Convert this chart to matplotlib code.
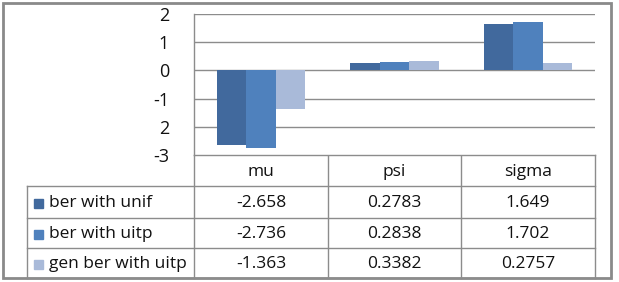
import matplotlib
matplotlib.use("Agg")
import matplotlib.pyplot as plt
from matplotlib.patches import Rectangle
import numpy as np

categories = ["mu", "psi", "sigma"]
series_names = ["ber with unif", "ber with uitp", "gen ber with uitp"]
ber_unif = [-2.658, 0.2783, 1.649]
ber_uitp = [-2.736, 0.2838, 1.702]
gen_ber_uitp = [-1.363, 0.3382, 0.2757]
value_labels = [
    ["-2.658", "0.2783", "1.649"],
    ["-2.736", "0.2838", "1.702"],
    ["-1.363", "0.3382", "0.2757"],
]
yticks = [2, 1, 0, -1, -2, -3]
ytick_labels = ["2", "1", "0", "-1", "2", "-3"]

colors = ["#41699D", "#4F81BD", "#A9BAD9"]
grid_c = "#8C8C8C"
txt_c = "#111111"
font = "Open Sans"

W, H = 619, 282
fig = plt.figure(figsize=(W / 100, H / 100), dpi=100)
plt.rcParams["font.family"] = [font, "DejaVu Sans"]

# pixel layout
px_left, px_right, px_top, px_bot = 194, 595, 14, 155
ax = fig.add_axes([px_left / W, 1 - px_bot / H,
                   (px_right - px_left) / W, (px_bot - px_top) / H])

x = np.arange(len(categories))
w = 0.22
for i, vals in enumerate([ber_unif, ber_uitp, gen_ber_uitp]):
    ax.bar(x + (i - 1) * w, vals, width=w, color=colors[i], zorder=3)

ax.set_xlim(-0.5, 2.5)
ax.set_ylim(-3, 2)
ax.set_yticks(yticks)
ax.set_yticklabels(ytick_labels, fontsize=13, color=txt_c)
ax.tick_params(axis="y", length=0, pad=18)
ax.set_xticks([])
ax.grid(axis="y", color=grid_c, linewidth=1.0, zorder=0)
for s in ["top", "right", "bottom"]:
    ax.spines[s].set_visible(False)
ax.spines["left"].set_color(grid_c)
ax.spines["left"].set_linewidth(1.0)

# table + border in pixel coordinates
tb = fig.add_axes([0, 0, 1, 1], zorder=-1)
tb.set_xlim(0, W)
tb.set_ylim(H, 0)
tb.set_axis_off()
tb.patch.set_alpha(0)

col_x = [27, 194, 328, 461, 595]
row_y = [155, 186, 218, 248, 278]
lw = 1.0
# header row (no legend cell)
tb.plot([194, 595], [155, 155], color=grid_c, lw=lw)
for cx in col_x[1:]:
    tb.plot([cx, cx], [155, 278], color=grid_c, lw=lw)
tb.plot([27, 27], [186, 278], color=grid_c, lw=lw)
for ry in row_y[1:]:
    tb.plot([27, 595], [ry, ry], color=grid_c, lw=lw)

fs = 12.5
for j, cat in enumerate(categories):
    cx = (col_x[j + 1] + col_x[j + 2]) / 2
    tb.text(cx, (row_y[0] + row_y[1]) / 2 + 1, cat, ha="center", va="center",
            fontsize=fs, color=txt_c)
for i, name in enumerate(series_names):
    cy = (row_y[i + 1] + row_y[i + 2]) / 2 + 1
    tb.add_patch(Rectangle((34, cy - 4.5), 9, 9, color=colors[i]))
    tb.text(49, cy, name, ha="left", va="center", fontsize=fs, color=txt_c)
    for j in range(len(categories)):
        cx = (col_x[j + 1] + col_x[j + 2]) / 2
        tb.text(cx, cy, value_labels[i][j], ha="center", va="center",
                fontsize=fs, color=txt_c)

# outer border
tb.add_patch(Rectangle((3, 3), 608, 275, fill=False, edgecolor="#8A8A8A", lw=2))

fig.savefig("out.png", dpi=100, facecolor="white")
